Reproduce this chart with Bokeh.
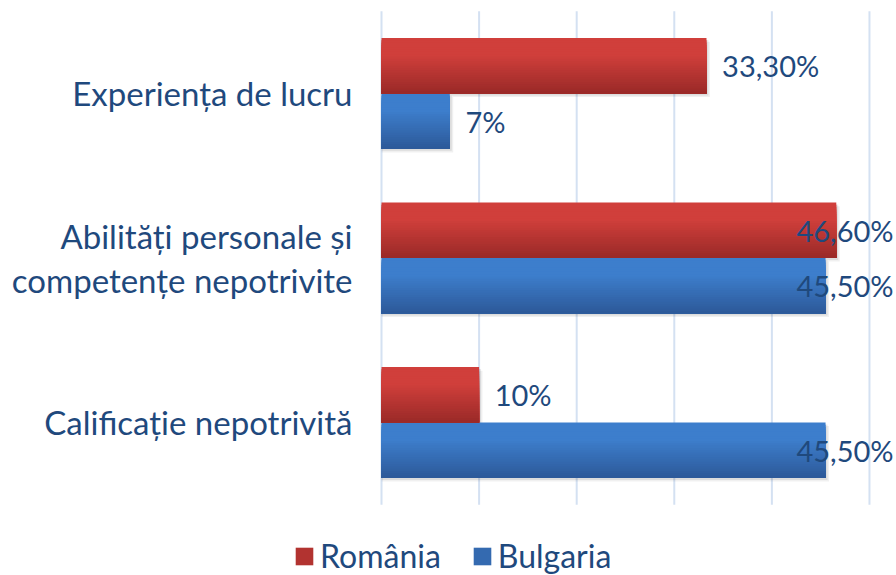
from bokeh.plotting import figure
from bokeh.models import Range1d, Legend, LegendItem, ColumnDataSource
from bokeh.core.properties import value
from bokeh.embed import file_html
from bokeh.resources import INLINE

# ---- data (bottom to top) ----
categories = ["Calificație nepotrivită",
              "Abilități personale și\ncompetențe nepotrivite",
              "Experiența de lucru"]
romania = [10.0, 46.6, 33.3]
bulgaria = [45.5, 45.5, 7.0]
romania_labels = ["10%", "46,60%", "33,30%"]
bulgaria_labels = ["45,50%", "45,50%", "7%"]
series_names = ["România", "Bulgaria"]
x_ticks = [0, 10, 20, 30, 40, 50]

# ---- style / layout ----
FONT = "Lato"
TXT = "#1F497D"
RED_TOP, RED_BOT = (208, 63, 59), (155, 42, 40)
BLU_TOP, BLU_BOT = (61, 126, 204), (45, 90, 154)
BAR_H = 0.337
N = 24
X_START, X_END = -39.04, 52.77       # frame covers the whole canvas
Y_START, Y_END = -0.93, 2.565
LABEL_GAP = 2.97                      # gap between category label and axis (x units)

p = figure(width=896, height=575, x_range=Range1d(X_START, X_END), y_range=Range1d(Y_START, Y_END),
           output_backend="svg", toolbar_location=None,
           min_border_left=0, min_border_right=0, min_border_top=0, min_border_bottom=0)
p.outline_line_color = None
p.background_fill_color = "white"
p.border_fill_color = "white"
p.axis.visible = False
p.grid.visible = False

ncat = len(categories)
# vertical gridlines
p.segment(x0=x_ticks, y0=[-0.5] * len(x_ticks), x1=x_ticks, y1=[ncat - 0.5] * len(x_ticks),
          line_color="#D4E1F2", line_width=2)

# category labels
p.text(x=[-LABEL_GAP] * ncat, y=list(range(ncat)), text=categories, text_align="right",
       text_baseline="middle", text_font=value(FONT), text_font_size="33px", text_color=TXT,
       text_line_height=1.1)


def mix(a, b, f):
    return "#%02x%02x%02x" % tuple(int(round(a[i] + (b[i] - a[i]) * f)) for i in range(3))


def slices(vals, top_off, ctop, cbot):
    # painter's gradient: each slice runs from its own top to the bar bottom
    d = dict(top=[], bottom=[], right=[], c=[])
    for k in range(N):
        t = k / (N - 1)
        f = max(0.0, (t - 0.3) / 0.7)
        for i, v in enumerate(vals):
            top = i + top_off
            d["top"].append(top - k * BAR_H / N)
            d["bottom"].append(top - BAR_H)
            d["right"].append(v)
            d["c"].append(mix(ctop, cbot, f))
    return ColumnDataSource(d)


# soft shadows
for dy, dx, a in [(0.022, 0.35, 0.06), (0.012, 0.2, 0.08)]:
    sh_y, sh_r = [], []
    for i in range(ncat):
        sh_y.append(i + BAR_H / 2 - dy)
        sh_r.append(romania[i] + dx)
        sh_y.append(i - BAR_H / 2 - dy)
        sh_r.append(bulgaria[i] + dx)
    p.hbar(y=sh_y, left=0, right=sh_r, height=BAR_H, fill_color="#000000", fill_alpha=a, line_color=None)

src_r = slices(romania, BAR_H, RED_TOP, RED_BOT)
src_b = slices(bulgaria, 0.0, BLU_TOP, BLU_BOT)
rb = p.quad(left=0, right="right", top="top", bottom="bottom", fill_color="c", line_color=None, source=src_b)
rr = p.quad(left=0, right="right", top="top", bottom="bottom", fill_color="c", line_color=None, source=src_r)


# data labels
def label_src(vals, labels, off):
    xs, ys, al = [], [], []
    for i, (v, l) in enumerate(zip(vals, labels)):
        ys.append(i + off)
        if v + 1.6 + len(l) * 1.6 > X_END:
            xs.append(X_END - 0.3)
            al.append("right")
        else:
            xs.append(v + 1.6)
            al.append("left")
    return ColumnDataSource(dict(x=xs, y=ys, t=list(labels), a=al))


for vals, labels, off in [(romania, romania_labels, BAR_H / 2), (bulgaria, bulgaria_labels, -BAR_H / 2)]:
    p.text(x="x", y="y", text="t", text_align="a", text_baseline="middle",
           text_font=value(FONT), text_font_size="29px", text_color=TXT, source=label_src(vals, labels, off))

# legend: swatch colour taken from a mid-gradient slice
mid = (N * 2 // 3) * ncat
legend = Legend(items=[LegendItem(label=series_names[0], renderers=[rr], index=mid),
                       LegendItem(label=series_names[1], renderers=[rb], index=mid)],
                orientation="horizontal", location=(293, 0),
                label_text_font=FONT, label_text_font_size="32px", label_text_color=TXT,
                glyph_width=22, glyph_height=22, label_standoff=5, spacing=30,
                padding=0, margin=0, border_line_color=None, background_fill_alpha=0)
p.add_layout(legend, "center")

open("out.html", "w").write(file_html(p, INLINE))
